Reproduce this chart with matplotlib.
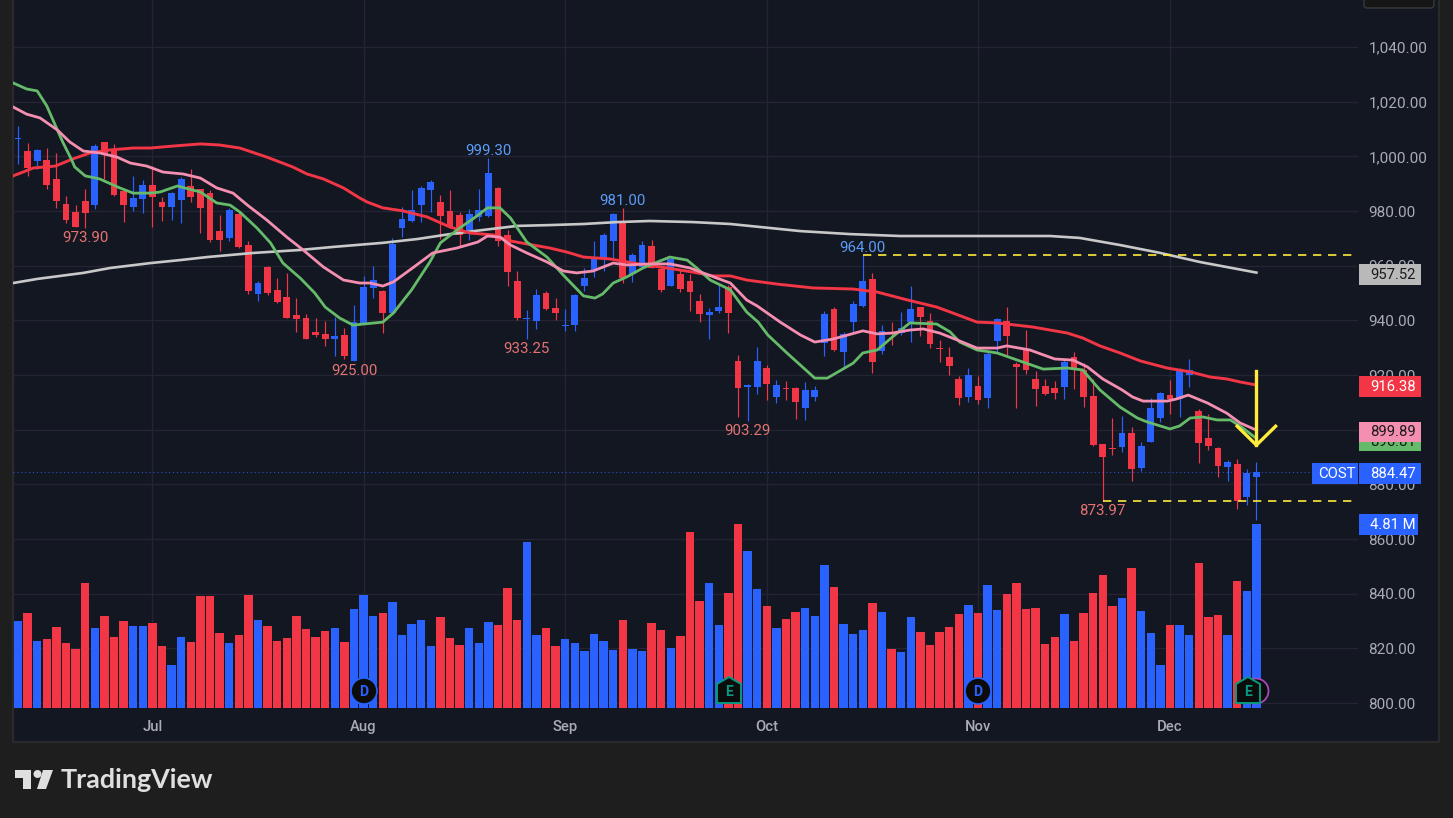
import matplotlib
matplotlib.use("Agg")
import matplotlib.pyplot as plt
from matplotlib.patches import Rectangle, Circle, Polygon, FancyBboxPatch
from matplotlib.transforms import Affine2D

plt.rcParams['font.family'] = ['Roboto', 'DejaVu Sans']

opens = [1006.4,1002.0,998.4,998.7,991.8,982.6,979.7,983.7,982.3,1005.3,
1002.8,987.4,981.5,984.5,989.6,983.4,981.5,984.1,989.2,988.1,
986.7,972.8,970.2,979.0,967.6,949.7,959.6,951.2,948.6,942.0,
940.9,935.8,935.1,933.2,934.7,925.2,938.7,951.9,950.8,942.7,
973.8,976.4,982.2,987.7,983.3,980.0,978.6,972.3,977.8,978.2,
988.4,971.2,954.4,940.5,939.8,950.0,944.5,938.0,938.3,952.6,
958.1,962.8,969.0,976.0,957.0,959.5,967.2,958.8,952.6,957.0,
954.4,947.1,942.0,943.4,952.3,925.2,915.7,915.7,922.6,912.0,
915.3,915.3,908.0,912.0,931.8,944.2,928.5,939.4,945.3,955.2,
928.9,935.4,935.4,939.4,944.9,939.8,929.9,926.6,918.6,912.0,
916.0,911.7,932.5,939.8,924.1,929.2,918.6,916.1,915.3,915.7,
926.7,921.9,912.4,894.8,893.4,893.7,898.9,886.1,895.6,904.3,
912.8,911.3,920.1,906.9,897.0,893.4,886.4,887.5,875.4,882.8]
closes = [1006.7,995.8,1002.4,989.6,983.7,976.8,974.2,979.3,1003.9,1000.9,
985.9,982.3,984.8,989.6,985.2,981.5,986.7,991.8,985.2,981.2,
969.5,969.5,980.4,966.9,950.8,953.7,950.1,946.8,940.9,940.6,
933.2,934.7,933.2,934.3,927.0,939.5,952.2,954.8,942.7,968.0,
977.1,980.4,988.4,990.6,978.2,974.2,971.2,978.9,980.4,993.9,
969.0,957.7,940.9,940.9,949.3,944.2,942.7,938.3,949.3,955.5,
963.2,971.2,979.0,955.5,963.9,967.6,959.2,951.1,962.5,951.5,
950.4,942.3,943.1,944.9,942.7,915.3,916.4,925.2,916.8,916.4,
914.9,910.2,914.6,914.6,942.4,929.2,935.1,946.0,954.4,924.8,
936.2,935.1,937.2,944.2,941.3,931.4,929.6,923.4,911.7,920.1,
910.9,927.7,940.6,934.3,923.0,921.9,915.0,913.1,913.5,924.8,
922.3,912.0,894.5,890.1,893.0,898.9,885.7,894.1,908.0,913.5,
911.3,921.9,921.9,895.2,894.1,886.8,888.2,874.0,884.2,884.47]
highs = [1011.2,1004.8,1002.8,1003.1,1001.3,985.6,982.3,988.1,1004.6,1005.3,
1004.6,987.4,992.9,991.4,996.5,985.2,987.0,992.5,995.4,988.1,
987.8,978.6,981.2,979.7,969.1,954.5,960.0,955.6,957.4,948.2,
942.4,940.9,939.8,941.3,937.3,945.7,956.2,959.9,951.1,970.1,
981.5,987.7,989.2,991.4,985.9,987.7,979.7,980.8,988.1,999.3,
988.8,973.1,958.1,943.8,951.5,950.8,948.2,944.2,949.7,959.2,
969.0,972.0,979.3,981.0,964.7,969.0,969.4,959.9,963.2,958.4,
957.0,949.7,944.5,953.3,953.0,927.4,916.8,930.3,923.7,918.2,
917.9,915.7,917.5,916.0,943.5,944.9,935.8,947.1,964.0,957.4,
938.3,939.4,943.1,952.6,944.9,942.7,932.9,930.3,919.7,922.6,
919.7,928.9,940.9,944.9,924.8,936.5,921.5,918.6,917.9,925.9,
928.5,924.5,918.6,894.8,904.3,905.1,901.1,895.6,911.7,913.9,
918.2,922.6,925.9,907.6,905.8,893.7,889.0,889.3,885.7,888.2]
lows = [997.3,992.9,995.3,988.1,981.2,975.7,974.2,973.9,980.8,991.8,
985.6,976.0,980.1,979.3,974.2,976.4,976.8,975.7,983.4,972.0,
968.7,965.4,969.1,966.5,949.7,947.1,949.3,946.4,940.9,935.8,
933.2,934.0,930.7,927.0,926.0,925.0,938.7,948.2,935.4,942.2,
970.5,976.0,976.0,979.7,969.8,973.8,966.9,969.4,976.4,978.0,
967.2,952.6,940.1,933.25,936.9,943.8,940.1,936.1,936.1,950.8,
955.9,958.0,962.8,953.7,954.0,959.5,959.2,950.4,952.6,950.4,
943.4,939.4,933.2,942.7,935.4,904.7,903.29,913.1,910.9,909.8,
910.9,904.0,903.6,910.6,927.0,928.9,922.6,935.8,944.9,920.8,
927.7,931.0,934.7,932.1,934.3,929.9,924.8,920.1,909.1,910.2,
909.4,908.0,928.5,927.0,908.0,920.4,908.7,912.8,911.3,911.3,
915.0,908.4,894.1,873.97,890.8,891.9,881.3,885.0,895.6,902.9,
905.8,904.7,915.7,887.9,892.6,882.8,881.3,871.1,872.5,867.0]
volume_m = [2.27,2.48,1.75,1.80,2.12,1.70,1.54,3.27,2.09,2.41,
1.86,2.27,2.14,2.14,2.22,1.62,1.12,1.86,1.73,2.93,
2.93,1.96,1.70,1.91,2.95,2.30,2.14,1.75,1.83,2.41,
2.07,1.86,2.01,2.09,1.73,2.59,2.95,2.41,2.48,2.77,
1.91,2.20,2.30,1.62,2.38,1.83,1.65,2.09,1.70,2.25,
2.17,3.14,2.30,4.34,1.91,2.09,1.62,1.80,1.70,1.49,
1.93,1.75,1.52,2.30,1.54,1.49,2.22,2.04,1.57,1.88,
4.60,2.80,3.27,2.17,3.01,4.81,4.10,3.11,2.67,2.09,
2.33,2.51,2.61,2.41,3.74,3.16,2.20,1.93,2.04,2.74,
2.51,1.54,1.46,2.38,1.99,1.65,1.99,2.12,2.46,2.69,
2.48,3.22,2.56,2.98,3.27,2.59,2.61,1.67,1.86,2.46,
1.75,2.48,3.01,3.48,2.67,2.88,3.66,2.54,1.96,1.12,
2.17,2.17,1.91,3.79,2.38,2.43,1.91,3.32,3.06,4.81]

green_idx = [-0.5,0.9,2.0,3.0,4.1,4.7,5.6,5.9,7.0,8.5,10.6,12.0,13.8,14.8,16.6,19.0,20.7,22.1,23.1,24.9,26.3,27.6,29.4,30.9,32.0,33.5,34.9,38.0,39.1,41.0,42.9,44.0,46.0,47.8,48.9,50.2,51.3,53.0,55.1,56.8,58.9,60.1,60.9,62.0,63.4,65.1,66.6,67.9,69.7,70.7,72.1,74.2,75.9,77.1,78.1,80.1,83.0,84.3,87.0,88.0,89.5,91.1,92.9,95.7,97.1,98.1,99.9,102.0,104.1,106.8,109.3,110.9,112.7,114.8,116.6,117.6,120.0,121.0,122.1,123.4,124.9,126.3,127.6,129.0]
green_ma = [1026.9,1024.7,1024.0,1018.5,1009.7,1005.0,998.7,996.2,992.9,991.8,988.5,986.6,986.6,987.0,989.2,987.0,983.0,982.2,979.7,973.8,968.4,961.0,955.5,950.1,944.9,940.9,938.3,939.4,942.7,951.2,961.4,968.4,973.8,978.2,981.2,981.2,977.5,968.7,963.2,956.6,949.0,948.2,949.7,953.7,955.9,959.2,961.4,963.2,962.1,959.2,954.8,951.2,943.1,939.4,934.7,928.1,918.9,918.9,924.4,928.1,929.2,934.0,939.1,938.7,935.8,932.1,929.2,928.1,925.5,922.2,922.6,921.9,914.6,908.3,904.3,902.9,900.3,901.4,904.3,904.7,903.6,903.6,900.6,896.81]
pink_idx = [-0.5,0.9,2.3,4.1,5.4,6.8,8.5,10.3,11.7,13.4,15.1,17.2,19.0,20.7,22.4,23.9,25.9,28.0,29.7,31.8,33.9,35.6,36.7,38.0,39.1,41.1,43.2,45.7,47.9,48.9,50.2,51.3,53.0,55.1,56.8,58.2,59.9,62.0,63.4,65.8,67.9,70.0,72.8,74.2,75.9,77.0,79.4,81.5,83.0,84.9,88.0,89.5,91.1,92.9,94.3,96.0,97.8,99.9,102.0,103.0,105.4,108.0,109.9,111.4,113.0,115.0,116.1,117.2,119.7,120.7,121.9,123.9,125.9,127.3,129.0]
pink_ma = [1018.1,1015.5,1014.1,1009.7,1005.3,1002.0,1001.3,999.8,997.6,996.5,994.3,993.6,992.1,988.5,986.6,982.2,976.8,970.5,965.8,959.6,954.8,953.7,953.7,952.6,954.1,959.2,964.7,966.5,968.7,970.9,970.5,967.6,964.7,961.4,958.1,957.4,958.1,961.0,960.3,960.7,960.7,959.2,955.5,953.7,947.5,945.3,939.4,934.7,932.1,933.2,936.2,935.1,935.4,936.5,936.9,935.4,932.9,929.9,929.9,930.7,929.2,925.9,925.5,923.0,918.6,914.6,912.0,910.5,910.5,911.3,912.7,909.8,906.1,902.5,899.89]
red_idx = [-0.5,1.6,3.9,5.7,7.5,9.6,12.0,13.8,16.1,19.0,21.0,23.1,25.9,28.6,30.1,31.8,33.9,35.6,36.4,38.0,40.1,42.6,45.0,47.1,49.5,51.3,53.0,55.4,57.2,58.9,61.7,64.1,67.6,70.3,72.4,74.2,75.9,79.1,82.8,87.0,89.5,92.2,95.7,97.4,99.9,102.0,105.7,109.3,110.9,112.7,114.8,116.9,119.7,122.1,124.2,125.9,127.3,129.0]
red_ma = [992.9,995.8,996.5,999.1,1001.3,1002.4,1003.1,1003.1,1003.8,1004.6,1004.2,1003.1,999.8,996.2,993.6,991.8,988.5,984.8,983.3,981.2,980.1,977.9,974.2,972.0,971.3,969.1,968.0,966.5,965.0,963.2,962.5,961.0,959.2,957.7,956.3,956.3,954.8,953.3,951.9,951.5,950.4,947.9,944.9,942.7,939.4,939.1,937.6,935.4,933.6,930.7,928.1,925.2,922.6,921.2,919.3,918.6,917.5,916.38]
grey_idx = [-0.5,2.0,6.8,9.6,13.8,16.9,19.7,24.5,29.4,32.8,38.0,41.6,45.0,48.4,52.0,55.4,58.9,62.4,65.8,70.3,74.2,77.3,81.5,86.7,91.9,97.1,102.3,107.5,110.6,114.8,119.0,123.1,129.0]
grey_ma = [953.7,955.2,957.4,959.2,961.0,962.1,963.2,964.7,965.8,966.9,968.4,969.8,971.6,973.1,974.6,974.9,975.3,976.0,976.4,976.0,975.3,974.2,972.7,971.6,970.9,970.9,970.9,970.9,970.2,967.6,964.7,961.4,957.52]

month_idx = [14, 36, 57, 78, 100, 120]
month_labels = ['Jul', 'Aug', 'Sep', 'Oct', 'Nov', 'Dec']
price_ticks = [800, 820, 840, 860, 880, 900, 920, 940, 960, 980, 1000, 1020, 1040]
high_notes = [(49, 999.30), (63, 981.00), (88, 964.00)]
low_notes = [(7, 973.90), (35, 925.00), (53, 933.25), (76, 903.29), (113, 873.97)]

BLUE = '#2962ff'; RED = '#f23645'; GREEN = '#66bb6a'; PINK = '#f48fb1'; GREY = '#c8c8c8'
YEL = '#ffeb3b'; BG = '#131722'; FRAME = '#1e1e1e'; GRID = '#232632'; TXT = '#a9acb5'

W, H = 1453, 818
fig = plt.figure(figsize=(W / 100, H / 100), dpi=100, facecolor=FRAME)
PX = Affine2D().scale(1, -1).translate(0, H)

fig.add_artist(Rectangle((13, -2), 1426, 744, transform=PX, fc=BG, ec='#2a2a2c', lw=1.6, zorder=0))
fig.add_artist(FancyBboxPatch((1364, -10), 70, 18, boxstyle='round,pad=0,rounding_size=3', transform=PX,
                              fc='#161616', ec='#3a3a3a', lw=1, zorder=0.5))

rect = [13 / W, 1 - 708 / H, (1358 - 13) / W, 708 / H]
ax = fig.add_axes(rect, zorder=1)
ax.patch.set_visible(False)
ax_v = fig.add_axes(rect, zorder=2)
ax_v.patch.set_visible(False)
ax_v.axis('off')

STEP = 9.6
ax.set_xlim((13 - 18) / STEP, (1358 - 18) / STEP)
ax.set_ylim(798.2, 1057.26)
ax_v.set_xlim(ax.get_xlim())
ax_v.set_ylim(0, 4.81 * 708 / 184)

for s in ax.spines.values():
    s.set_visible(False)
ax.set_axisbelow(True)
ax.grid(True, color=GRID, lw=1)
ax.yaxis.tick_right()
ax.set_yticks(price_ticks)
ax.set_yticklabels([f'{p:,.2f}' for p in price_ticks])
ax.set_xticks(month_idx)
ax.set_xticklabels(month_labels, fontweight='medium')
ax.tick_params(axis='y', length=0, pad=7.5, labelsize=11, labelcolor=TXT)
ax.tick_params(axis='x', length=0, pad=8.6, labelsize=10.6, labelcolor=TXT)

xs = list(range(len(opens)))
cols = [BLUE if c >= o else RED for o, c in zip(opens, closes)]

ax_v.bar(xs, volume_m, width=0.88, color=cols, lw=0)

ax.axhline(closes[-1], color=BLUE, lw=0.8, ls=(0, (1, 2.5)), alpha=0.75, zorder=1.5)
ax.vlines(xs, lows, highs, colors=cols, lw=0.85, zorder=2)
ax.bar(xs, [abs(c - o) for o, c in zip(opens, closes)],
       bottom=[min(o, c) for o, c in zip(opens, closes)], width=0.72, color=cols, lw=0, zorder=3)

ax.plot(grey_idx, grey_ma, color=GREY, lw=1.9, zorder=3.2)
ax.plot(red_idx, red_ma, color=RED, lw=2.1, zorder=3.3)
ax.plot(green_idx, green_ma, color=GREEN, lw=2.0, zorder=3.4)
ax.plot(pink_idx, pink_ma, color=PINK, lw=2.0, zorder=3.5)

# drawings
ax.plot([88, 139.2], [highs[88]] * 2, color=YEL, lw=1.2, ls=(0, (5, 4)), zorder=4)
ax.plot([113, 139.5], [lows[113]] * 2, color=YEL, lw=1.2, ls=(0, (5, 4)), zorder=4)
ax.plot([129, 129], [921.5, 894.4], color=YEL, lw=2.4, zorder=4.2)
ax.plot([127, 129, 131], [901.3, 894.4, 901.3], color=YEL, lw=2.4, zorder=4.2)

for i, v in high_notes:
    ax.annotate(f'{v:.2f}', (i, v), xytext=(0, 0), textcoords='offset points', ha='center', va='bottom',
                color='#5b9cf6', fontsize=10.8, zorder=5)
for i, v in low_notes:
    ax.annotate(f'{v:.2f}', (i, v), xytext=(0, -2), textcoords='offset points', ha='center', va='top',
                color='#e57373', fontsize=10.8, zorder=5)

# price tags: the green tag sits under the pink one, as in the reference
def tag(x0, x1, y0, y1, fc, label, tc, tx=None, z=20):
    ax.add_artist(Rectangle((x0, y0), x1 - x0, y1 - y0, transform=PX, fc=fc, ec='none', zorder=z, clip_on=False))
    ax.text(tx if tx else x0 + 11, (y0 + y1) / 2 + 0.5, label, transform=PX, color=tc, fontsize=10.7,
            ha='left', va='center', zorder=z + 0.5, clip_on=False)

tag(1359, 1421, 264, 285, '#b9b9b9', f'{grey_ma[-1]:.2f}', '#1a1a1a')
tag(1359, 1421, 376, 397, RED, f'{red_ma[-1]:.2f}', 'white')
tag(1359, 1421, 431, 451, GREEN, f'{green_ma[-1]:.2f}', '#1a1a1a', z=18)
tag(1359, 1421, 422, 442, PINK, f'{pink_ma[-1]:.2f}', '#1a1a1a')
tag(1359, 1421, 463, 484, BLUE, f'{closes[-1]:.2f}', 'white')
tag(1312, 1358, 463, 484, BLUE, 'COST', 'white', tx=1318)
tag(1359, 1418, 514, 535, BLUE, f'{volume_m[-1]:.2f} M', 'white')

# event badges
def badge_d(cx, cy=691):
    ax_v.add_artist(Circle((cx, cy), 13, transform=PX, fc='#0c0c0c', ec=BLUE, lw=1.2, zorder=6, clip_on=False))
    ax_v.text(cx, cy + 0.5, 'D', transform=PX, color=BLUE, fontsize=10, fontweight='bold', ha='center', va='center', zorder=7)

def badge_e(cx, cy=691):
    c = '#089981'
    ax_v.add_artist(Polygon([(cx, cy - 14), (cx + 12, cy - 7), (cx + 12, cy + 12), (cx - 12, cy + 12), (cx - 12, cy - 7)],
                            closed=True, transform=PX, fc='#0c0c0c', ec=c, lw=1.4, zorder=6, clip_on=False))
    ax_v.text(cx, cy + 0.5, 'E', transform=PX, color=c, fontsize=10, fontweight='bold', ha='center', va='center', zorder=7)

ax_v.add_artist(Circle((1256, 691), 12.5, transform=PX, fc='#0c0c0c', ec='#ab47bc', lw=1.3, zorder=5, clip_on=False))
badge_d(364); badge_d(978); badge_e(729); badge_e(1248)

# logo
LOGO = '#dfdfdf'
fig.add_artist(Polygon([(15, 770), (31, 770), (31, 789), (23, 789), (23, 778), (15, 778)], transform=PX, fc=LOGO, ec='none'))
fig.add_artist(Circle((37.5, 774), 4, transform=PX, fc=LOGO, ec='none'))
fig.add_artist(Polygon([(43, 770), (53, 770), (46, 789), (37, 789)], transform=PX, fc=LOGO, ec='none'))
fig.text(61 / W, 1 - 788 / H, 'TradingView', color=LOGO, fontsize=19.4, fontweight='bold',
         family=['Lato', 'DejaVu Sans'], ha='left', va='baseline')

fig.savefig('out.png', dpi=100, facecolor=FRAME)
